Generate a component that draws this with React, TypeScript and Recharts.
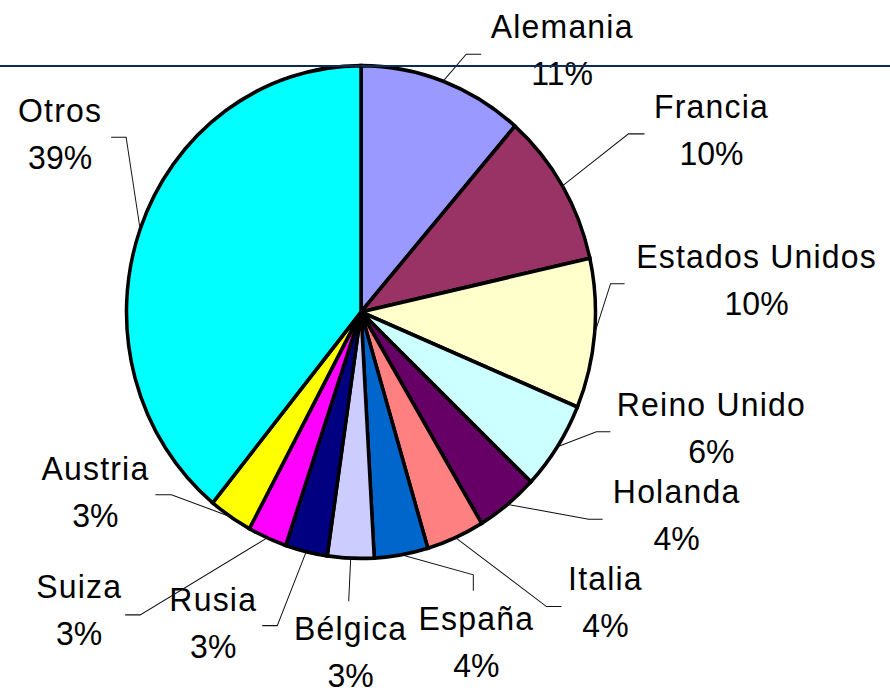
import React from 'react';
import { PieChart, Pie, Cell } from 'recharts';

// ---- data ----
const countries = ['Alemania', 'Francia', 'Estados Unidos', 'Reino Unido', 'Holanda', 'Italia', 'España', 'Bélgica', 'Rusia', 'Suiza', 'Austria', 'Otros'];
const shares = [11.4, 10.1, 9.8, 5.8, 4.3, 4.0, 3.7, 3.2, 2.9, 2.7, 3.0, 39.1];

// ---- style ----
const colors = ['#9999FF', '#993366', '#FFFFCC', '#CCFFFF', '#660066', '#FF8080', '#0066CC', '#CCCCFF', '#000080', '#FF00FF', '#FFFF00', '#00FFFF'];

// label layout (offsets in screen px from each slice's outer mid-point):
// t = text centre / first baseline, e = leader elbow, h = leader end
const labelLayout = [
  { t: [119, -43], e: [23, -27], h: [38, -27] },
  { t: [149, -68], e: [66, -52], h: [82, -52] },
  { t: [162, -66], e: [16, -50], h: [30, -50] },
  { t: [154, -31], e: [39, -15], h: [53, -15] },
  { t: [169, -1], e: [81, 15], h: [95, 15] },
  { t: [150, 52], e: [91, 69], h: [106, 69] },
  { t: [75, 75], e: [72, 20], h: [72, 36] },
  { t: [0, 82], e: [-2, 43], h: [-2, 43] },
  { t: [-93, 59], e: [-29, 74], h: [-44, 74] },
  { t: [-188, 60], e: [-127, 77], h: [-142, 77] },
  { t: [-135, -37], e: [-59, -22], h: [-75, -22] },
  { t: [-80, -107], e: [-14, -92], h: [-29, -92] },
];

const data = countries.map((name, i) => ({ name, value: shares[i] }));

const SY = 1.051; // vertical stretch of the original picture
const RAD = Math.PI / 180;
const FONT = '"Liberation Sans", Arial, sans-serif';
const LINE_GAP = 47;

const renderLabel = (p: any) => {
  const { cx, cy, midAngle, outerRadius, percent, index } = p;
  const ax = cx + outerRadius * Math.cos(-midAngle * RAD);
  const ay = cy + outerRadius * Math.sin(-midAngle * RAD);
  const L = labelLayout[index];
  const pts = [
    [ax, ay],
    [ax + L.e[0], ay + L.e[1] / SY],
    [ax + L.h[0], ay + L.h[1] / SY],
  ]
    .map((q) => q.join(','))
    .join(' ');
  const tx = ax + L.t[0];
  const ty = ay + L.t[1] / SY;
  return (
    <g key={`lbl-${index}`}>
      <polyline points={pts} fill="none" stroke="#111" strokeWidth={1} />
      <text x={tx} y={ty} textAnchor="middle" fontFamily={FONT} fontSize={32} letterSpacing={1.2} fill="#000">
        {countries[index]}
      </text>
      <text x={tx} y={ty + LINE_GAP / SY} textAnchor="middle" fontFamily={FONT} fontSize={32} fill="#000">
        {`${Math.round(percent * 100)}%`}
      </text>
    </g>
  );
};

export default function App() {
  return (
    <div style={{ position: 'absolute', left: 0, top: 0, width: 890, height: 695, background: '#fff', overflow: 'hidden' }}>
      <div style={{ transform: `scaleY(${SY})`, transformOrigin: '0 0', width: 890, height: 662 }}>
        <PieChart width={890} height={662} margin={{ top: 0, right: 0, bottom: 0, left: 0 }}>
          <Pie
            data={data}
            dataKey="value"
            nameKey="name"
            cx={361}
            cy={312 / SY}
            outerRadius={234.5}
            startAngle={90}
            endAngle={-270}
            stroke="#000"
            strokeWidth={3.5}
            label={renderLabel}
            labelLine={false}
            isAnimationActive={false}
          >
            {data.map((d, i) => (
              <Cell key={d.name} fill={colors[i]} />
            ))}
          </Pie>
        </PieChart>
      </div>
      <div style={{ position: 'absolute', left: 0, top: 65, width: 890, height: 2, background: '#0B2A55' }} />
    </div>
  );
}
